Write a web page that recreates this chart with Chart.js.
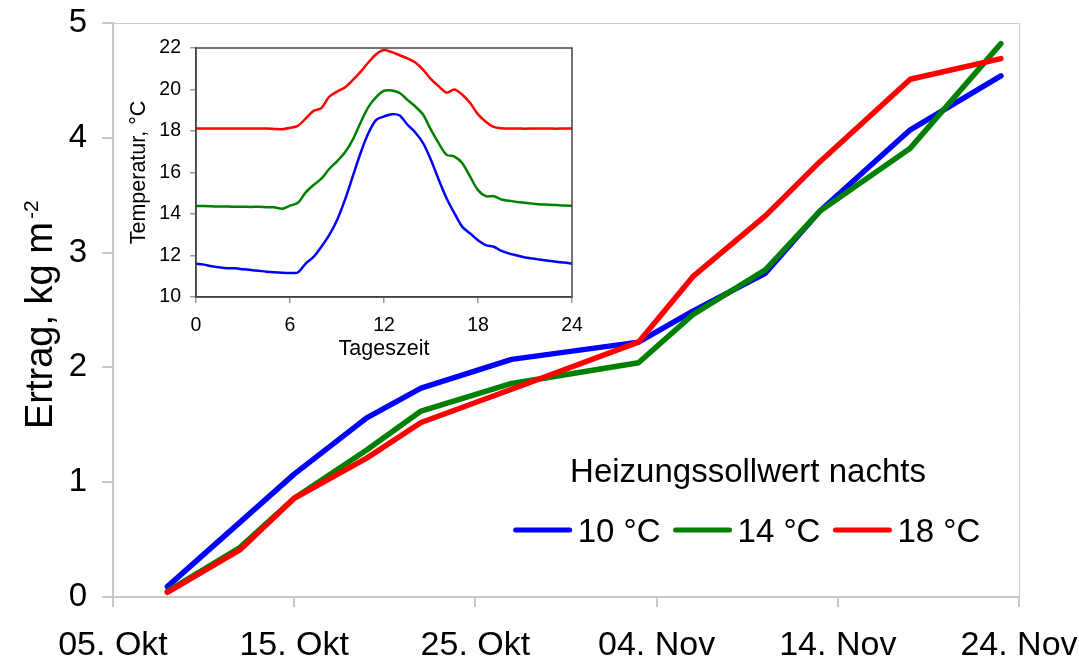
<!DOCTYPE html>
<html>
<head>
<meta charset="utf-8">
<script src="https://cdn.jsdelivr.net/npm/chart.js@4.4.0/dist/chart.umd.min.js"></script>
<style>
  html, body { margin: 0; padding: 0; background: #fff; }
  #wrap { position: relative; width: 1079px; height: 664px; overflow: hidden; }
  #mainChart { position: absolute; left: 0; top: 0; }
  #insetChart { position: absolute; left: 110px; top: 20px; }
</style>
</head>
<body>
<div id="wrap">
  <canvas id="mainChart" width="1079" height="664"></canvas>
  <canvas id="insetChart" width="480" height="345"></canvas>
</div>
<script>
// main chart: days after 05. Okt
const dayOffsets = [3, 7, 10, 14, 17, 22, 29, 32, 36, 39, 44, 49];
const dateTicks = ['05. Okt', '15. Okt', '25. Okt', '04. Nov', '14. Nov', '24. Nov'];
const yield10 = [0.09, 0.65, 1.07, 1.56, 1.82, 2.07, 2.22, 2.49, 2.82, 3.36, 4.07, 4.54];
const yield14 = [0.05, 0.43, 0.86, 1.28, 1.62, 1.86, 2.04, 2.46, 2.85, 3.36, 3.91, 4.82];
const yield18 = [0.04, 0.41, 0.86, 1.21, 1.52, 1.81, 2.22, 2.79, 3.32, 3.79, 4.51, 4.69];
const seriesLabels = ['10 °C', '14 °C', '18 °C'];
const legendTitle = 'Heizungssollwert nachts';

// inset: temperature course over the day
const hours = [0, 0.5, 1, 1.5, 2, 2.5, 3, 3.5, 4, 4.5, 5, 5.5, 6, 6.5, 7, 7.5, 8, 8.5, 9, 9.5,
  10, 10.5, 11, 11.5, 12, 12.5, 13, 13.5, 14, 14.5, 15, 15.5, 16, 16.5, 17, 17.5, 18, 18.5, 19, 19.5,
  20, 20.5, 21, 21.5, 22, 22.5, 23, 23.5, 24];
const temp10 = [11.60, 11.56, 11.48, 11.43, 11.39, 11.38, 11.34, 11.30, 11.26, 11.22, 11.19, 11.17, 11.16, 11.18,
  11.61, 11.93, 12.42, 12.98, 13.70, 14.67, 15.80, 16.93, 17.89, 18.54, 18.70, 18.81, 18.75, 18.30, 17.93, 17.41,
  16.60, 15.64, 14.75, 14.03, 13.38, 13.06, 12.74, 12.50, 12.42, 12.22, 12.09, 12.00, 11.90, 11.85, 11.80, 11.75,
  11.70, 11.66, 11.61];
const temp14 = [14.38, 14.38, 14.37, 14.36, 14.36, 14.35, 14.35, 14.34, 14.35, 14.33, 14.32, 14.25, 14.40, 14.54,
  15.04, 15.40, 15.70, 16.17, 16.54, 16.96, 17.57, 18.40, 19.15, 19.63, 19.94, 19.95, 19.83, 19.50, 19.18, 18.78,
  18.05, 17.40, 16.85, 16.77, 16.45, 15.80, 15.15, 14.86, 14.86, 14.70, 14.64, 14.58, 14.54, 14.50, 14.46, 14.45,
  14.43, 14.41, 14.40];
const temp18 = [18.12, 18.12, 18.12, 18.12, 18.12, 18.12, 18.12, 18.12, 18.12, 18.12, 18.10, 18.08, 18.15, 18.25,
  18.60, 18.97, 19.10, 19.65, 19.90, 20.10, 20.45, 20.85, 21.30, 21.70, 21.90, 21.80, 21.65, 21.50, 21.30, 20.95,
  20.50, 20.15, 19.85, 20.00, 19.75, 19.35, 18.80, 18.45, 18.20, 18.13, 18.12, 18.12, 18.11, 18.12, 18.12, 18.12,
  18.11, 18.12, 18.12];

const FONT = "'Liberation Sans', Arial, Helvetica, sans-serif";
const colors = ['#0000ff', '#008000', '#ff0000'];

function toPoints(xs, ys) {
  return xs.map((x, i) => ({ x: x, y: ys[i] }));
}

// fixed axis boxes, no extra room for label overhang
function fixX(h) {
  return s => { s.height = h; s.paddingLeft = 0; s.paddingRight = 0; };
}
function fixY(w) {
  return s => { s.width = w; s.paddingTop = 0; s.paddingBottom = 0; };
}

// light frame on top and right of the plot area
const mainFrame = {
  id: 'mainFrame',
  beforeDatasetsDraw(chart) {
    const { ctx, chartArea: a } = chart;
    ctx.save();
    ctx.strokeStyle = '#cccccc';
    ctx.lineWidth = 1;
    ctx.beginPath();
    ctx.moveTo(a.left, a.top + 0.5);
    ctx.lineTo(a.right + 0.5, a.top + 0.5);
    ctx.lineTo(a.right + 0.5, a.bottom);
    ctx.stroke();
    ctx.restore();
  }
};

// y title with superscript
const mainYTitle = {
  id: 'mainYTitle',
  afterDraw(chart) {
    const ctx = chart.ctx;
    ctx.save();
    ctx.translate(52, 429);
    ctx.rotate(-Math.PI / 2);
    ctx.fillStyle = '#000';
    ctx.textAlign = 'left';
    ctx.textBaseline = 'alphabetic';
    ctx.font = '38px ' + FONT;
    const base = 'Ertrag, kg m';
    ctx.fillText(base, 0, 0);
    const w = ctx.measureText(base).width;
    ctx.font = '21px ' + FONT;
    ctx.fillText('-2', w + 3, -14);
    ctx.restore();
  }
};

// legend drawn inside the plot
const mainLegend = {
  id: 'mainLegend',
  afterDraw(chart) {
    const ctx = chart.ctx;
    const cx = 748;
    ctx.save();
    ctx.fillStyle = '#000';
    ctx.font = '33px ' + FONT;
    ctx.textAlign = 'center';
    ctx.textBaseline = 'alphabetic';
    ctx.fillText(legendTitle, cx, 482);

    const lineLen = 54, gap = 8, spacing = 15;
    const widths = seriesLabels.map(t => ctx.measureText(t).width);
    let total = 0;
    widths.forEach((w, i) => { total += lineLen + gap + w + (i < widths.length - 1 ? spacing : 0); });
    let x = cx - total / 2;
    ctx.textAlign = 'left';
    seriesLabels.forEach((t, i) => {
      ctx.strokeStyle = colors[i];
      ctx.lineWidth = 5;
      ctx.lineCap = 'round';
      ctx.beginPath();
      ctx.moveTo(x, 530);
      ctx.lineTo(x + lineLen, 530);
      ctx.stroke();
      ctx.fillText(t, x + lineLen + gap, 542);
      x += lineLen + gap + widths[i] + spacing;
    });
    ctx.restore();
  }
};

new Chart(document.getElementById('mainChart'), {
  type: 'line',
  data: {
    datasets: [
      { label: seriesLabels[0], data: toPoints(dayOffsets, yield10), borderColor: colors[0], order: 2 },
      { label: seriesLabels[1], data: toPoints(dayOffsets, yield14), borderColor: colors[1], order: 1 },
      { label: seriesLabels[2], data: toPoints(dayOffsets, yield18), borderColor: colors[2], order: 0 }
    ]
  },
  options: {
    responsive: false,
    animation: false,
    layout: { padding: { top: 23, right: 60, left: 0, bottom: 0 } },
    elements: {
      point: { radius: 0 },
      line: { borderWidth: 5.5, tension: 0, fill: false, borderCapStyle: 'round', borderJoinStyle: 'round' }
    },
    plugins: { legend: { display: false }, tooltip: { enabled: false } },
    scales: {
      x: {
        type: 'linear', min: 0, max: 50,
        ticks: {
          stepSize: 10, autoSkip: false, maxRotation: 0, padding: 18,
          color: '#000', font: { family: FONT, size: 34 },
          callback: (v) => dateTicks[Math.round(v / 10)]
        },
        grid: { drawOnChartArea: false, tickLength: 10, color: '#c8c8c8', lineWidth: 2 },
        border: { color: '#c8c8c8', width: 2 },
        afterFit: fixX(67)
      },
      y: {
        min: 0, max: 5,
        ticks: { stepSize: 1, padding: 15, color: '#000', font: { family: FONT, size: 33 } },
        grid: { drawOnChartArea: false, tickLength: 11, color: '#c8c8c8', lineWidth: 2 },
        border: { color: '#c8c8c8', width: 2 },
        afterFit: fixY(113)
      }
    }
  },
  plugins: [mainFrame, mainYTitle, mainLegend]
});

// inset frame and axis titles
const insetDecor = {
  id: 'insetDecor',
  afterDraw(chart) {
    const { ctx, chartArea: a } = chart;
    ctx.save();
    ctx.strokeStyle = '#444';
    ctx.lineWidth = 1.5;
    ctx.strokeRect(a.left, a.top, a.right - a.left, a.bottom - a.top);
    ctx.fillStyle = '#000';
    ctx.font = '21.5px ' + FONT;
    ctx.textAlign = 'center';
    ctx.textBaseline = 'alphabetic';
    ctx.fillText('Tageszeit', (a.left + a.right) / 2, 335);
    ctx.translate(35, (a.top + a.bottom) / 2);
    ctx.rotate(-Math.PI / 2);
    ctx.fillText('Temperatur, °C', 0, 0);
    ctx.restore();
  }
};

new Chart(document.getElementById('insetChart'), {
  type: 'line',
  data: {
    datasets: [
      { label: seriesLabels[0], data: toPoints(hours, temp10), borderColor: colors[0] },
      { label: seriesLabels[1], data: toPoints(hours, temp14), borderColor: colors[1] },
      { label: seriesLabels[2], data: toPoints(hours, temp18), borderColor: colors[2] }
    ]
  },
  options: {
    responsive: false,
    animation: false,
    layout: { padding: { top: 28, right: 18, left: 0, bottom: 0 } },
    elements: {
      point: { radius: 0 },
      line: { borderWidth: 2.5, tension: 0.3, fill: false, borderJoinStyle: 'round' }
    },
    plugins: { legend: { display: false }, tooltip: { enabled: false } },
    scales: {
      x: {
        type: 'linear', min: 0, max: 24,
        ticks: { stepSize: 6, autoSkip: false, maxRotation: 0, padding: 11, color: '#000', font: { family: FONT, size: 19.5 } },
        grid: { drawOnChartArea: false, tickLength: 6, color: '#999', lineWidth: 1.5 },
        border: { color: '#444', width: 1.5 },
        afterFit: fixX(68)
      },
      y: {
        min: 10, max: 22,
        ticks: { stepSize: 2, padding: 9, color: '#000', font: { family: FONT, size: 19.5 } },
        grid: { drawOnChartArea: false, tickLength: 6, color: '#999', lineWidth: 1.5 },
        border: { color: '#444', width: 1.5 },
        afterFit: fixY(86)
      }
    }
  },
  plugins: [insetDecor]
});
</script>
</body>
</html>
